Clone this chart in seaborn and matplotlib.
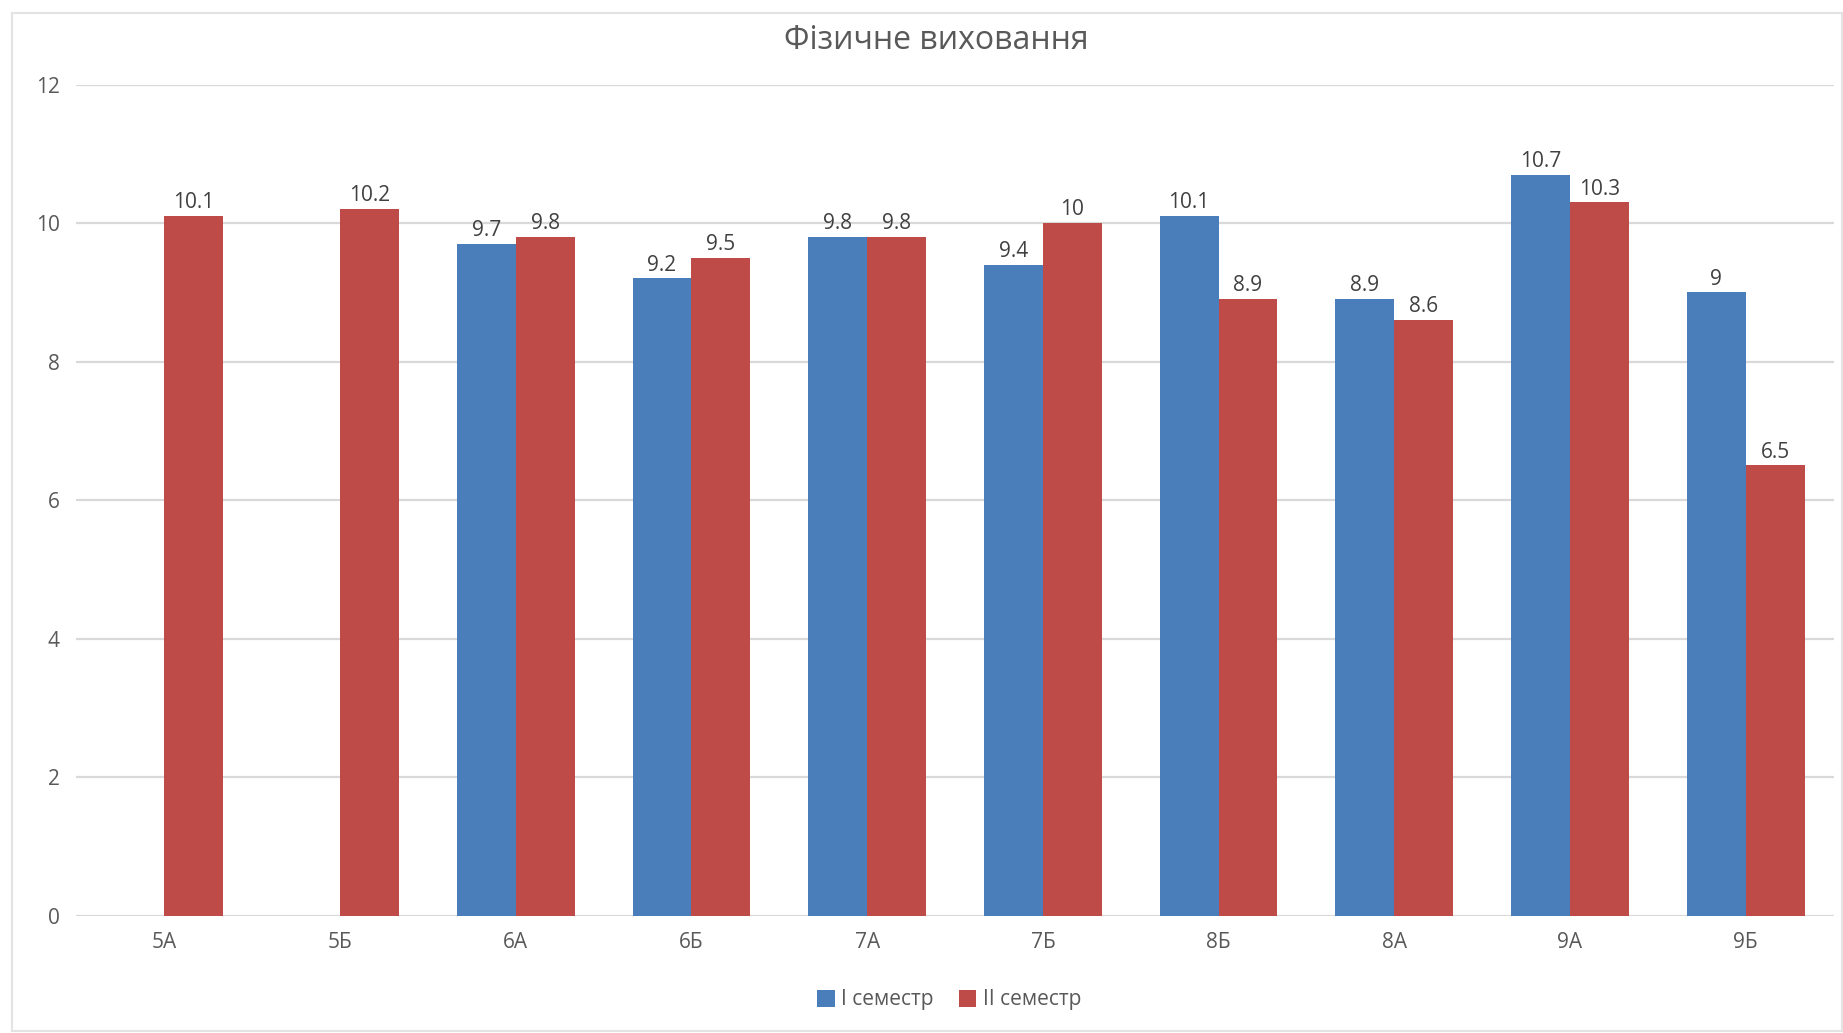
import numpy as np
import pandas as pd
import matplotlib.pyplot as plt
import seaborn as sns
from matplotlib.patches import Rectangle

# дані з діаграми
classes = ['5А', '5Б', '6А', '6Б', '7А', '7Б', '8Б', '8А', '9А', '9Б']
sem1 = [np.nan, np.nan, 9.7, 9.2, 9.8, 9.4, 10.1, 8.9, 10.7, 9.0]
sem2 = [10.1, 10.2, 9.8, 9.5, 9.8, 10.0, 8.9, 8.6, 10.3, 6.5]
series_names = ['I семестр', 'II семестр']
colors = ['#4A7EBB', '#BE4B48']

df = pd.DataFrame({
    'клас': classes * 2,
    'бал': sem1 + sem2,
    'семестр': [series_names[0]] * len(classes) + [series_names[1]] * len(classes),
})

sns.set_theme(style='white')
plt.rcParams['font.family'] = ['Open Sans', 'DejaVu Sans']

fig = plt.figure(figsize=(18.43, 10.33), dpi=100)
ax = fig.add_axes([0.0415, 0.1137, 0.9534, 0.8044])

sns.barplot(data=df, x='клас', y='бал', hue='семестр', order=classes,
            hue_order=series_names, palette=colors, width=0.67,
            errorbar=None, saturation=1, ax=ax, linewidth=0)

for c in ax.containers:
    ax.bar_label(c, fmt=lambda v: f'{v:g}', padding=2, fontsize=15, color='#404040')

ax.set_ylim(0, 12)
ax.set_xlim(-0.5, len(classes) - 0.5)
ax.set_yticks(range(0, 13, 2))
ax.yaxis.grid(True, color='#D9D9D9', linewidth=1.6)
ax.set_axisbelow(True)
for s in ax.spines.values():
    s.set_visible(False)
ax.tick_params(axis='both', length=0, labelsize=15, labelcolor='#595959')
ax.tick_params(axis='y', pad=12)
ax.tick_params(axis='x', pad=12)
ax.set_xlabel('')
ax.set_ylabel('')

# легенда внизу
handles, labels = ax.get_legend_handles_labels()
ax.get_legend().remove()
fig.legend(handles, labels, loc='center', bbox_to_anchor=(0.515, 0.032), ncol=2,
           frameon=False, fontsize=15, handlelength=0.85, handleheight=0.85,
           handletextpad=0.3, columnspacing=1.2, labelcolor='#595959')

fig.text(0.508, 0.961, 'Фізичне виховання', ha='center', va='center',
         fontsize=23, color='#595959')

# рамка області діаграми
fig.patches.append(Rectangle((12 / 1843, 2 / 1033), 1830 / 1843, 1018 / 1033,
                             transform=fig.transFigure, fill=False,
                             edgecolor='#E3E3E3', linewidth=1.5))

fig.savefig('out.png', dpi=100)
